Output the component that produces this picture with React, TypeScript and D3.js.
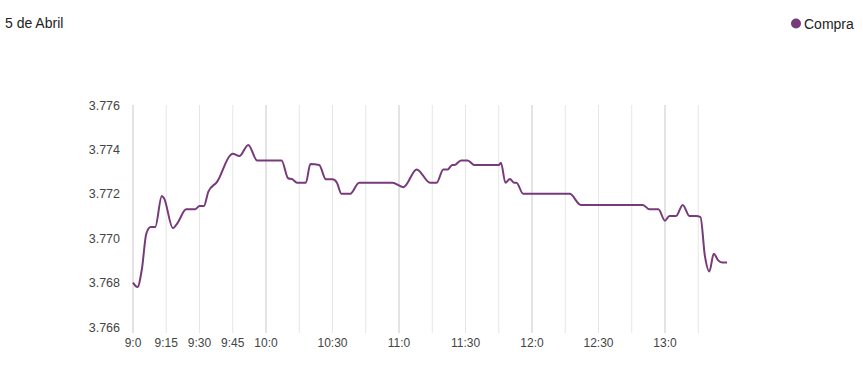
import * as d3 from "d3";
import { useEffect, useRef } from "react";

const title = "5 de Abril";
const seriesName = "Compra";

// minutes since midnight
const times = [
  540, 542, 544, 546, 548, 550, 553, 554, 558, 560, 564, 568, 570, 572, 574, 578,
  584, 585, 588, 592, 596, 607, 610, 612, 614, 618, 620, 624, 627, 630, 632, 634,
  638, 642, 657, 662, 668, 674, 677, 680, 682, 684, 685, 688, 691, 694, 705, 706,
  708, 710, 712, 713, 716, 737, 742, 770, 773, 777, 780, 782, 785, 788, 791, 794,
  796, 798, 800, 802, 804, 806, 808,
];
const values = [
  3.768, 3.7678, 3.7686, 3.7702, 3.7705, 3.7705, 3.7719, 3.7718, 3.77045, 3.77067,
  3.7713, 3.7713, 3.77145, 3.77145, 3.7721, 3.77255, 3.77375, 3.7738, 3.7737,
  3.7742, 3.7735, 3.7735, 3.7727, 3.77265, 3.7725, 3.7725, 3.77334, 3.7733,
  3.77265, 3.77265, 3.7725, 3.772, 3.772, 3.7725, 3.7725, 3.7723, 3.7731, 3.7725,
  3.7725, 3.7731, 3.7731, 3.7733, 3.7733, 3.7735, 3.7735, 3.7733, 3.7733, 3.7734,
  3.7725, 3.77267, 3.7725, 3.7725, 3.772, 3.772, 3.7715, 3.7715, 3.7713, 3.7713,
  3.77079, 3.771, 3.771, 3.7715, 3.771, 3.771, 3.77095, 3.7692, 3.7685, 3.7693,
  3.769, 3.7689, 3.7689,
];

const gridTicks = d3.range(540, 795 + 1, 15);
const labelTicks = [540, 555, 570, 585, 600, 630, 660, 690, 720, 750, 780];
const yTicks = [3.766, 3.768, 3.77, 3.772, 3.774, 3.776];

const W = 863;
const H = 386;
const color = "#773a7b";

const fmtTime = (m: number) => `${Math.floor(m / 60)}:${m % 60}`;

function Chart() {
  const ref = useRef<SVGSVGElement>(null);

  useEffect(() => {
    const svg = d3.select(ref.current);
    svg.selectAll("*").remove();

    const x = d3.scaleLinear().domain([540, 810]).range([133, 731.5]);
    const y = d3.scaleLinear().domain([3.766, 3.776]).range([327, 105]);

    svg
      .append("g")
      .selectAll("line")
      .data(gridTicks)
      .join("line")
      .attr("x1", (d) => x(d))
      .attr("x2", (d) => x(d))
      .attr("y1", y(3.776))
      .attr("y2", y(3.766) + 6)
      .attr("stroke", (d) => (d % 60 === 0 ? "#c8c8c8" : "#e6e6e6"))
      .attr("stroke-width", 1);

    svg
      .append("g")
      .selectAll("text")
      .data(labelTicks)
      .join("text")
      .attr("x", (d) => x(d))
      .attr("y", 347)
      .attr("text-anchor", "middle")
      .attr("font-size", 12)
      .attr("fill", "#444")
      .text((d) => fmtTime(d));

    svg
      .append("g")
      .selectAll("text")
      .data(yTicks)
      .join("text")
      .attr("x", 120)
      .attr("y", (d) => y(d) + 4.5)
      .attr("text-anchor", "end")
      .attr("font-size", 12.5)
      .attr("fill", "#444")
      .text((d) => d3.format(".3f")(d));

    const line = d3
      .line<number>()
      .x((_, i) => x(times[i]))
      .y((d) => y(d))
      .curve(d3.curveMonotoneX);

    svg
      .append("path")
      .datum(values)
      .attr("d", line)
      .attr("fill", "none")
      .attr("stroke", color)
      .attr("stroke-width", 2);

    svg
      .append("text")
      .attr("x", 5)
      .attr("y", 28)
      .attr("font-size", 14)
      .attr("fill", "#222")
      .text(title);

    svg
      .append("circle")
      .attr("cx", 796)
      .attr("cy", 23.5)
      .attr("r", 5)
      .attr("fill", color);

    svg
      .append("text")
      .attr("x", 804)
      .attr("y", 28.5)
      .attr("font-size", 14)
      .attr("fill", "#222")
      .text(seriesName);
  }, []);

  return (
    <svg
      ref={ref}
      width={W}
      height={H}
      style={{
        position: "absolute",
        left: 0,
        top: 0,
        fontFamily: "'Liberation Sans', Arial, sans-serif",
      }}
    />
  );
}

export default function App() {
  return <Chart />;
}
